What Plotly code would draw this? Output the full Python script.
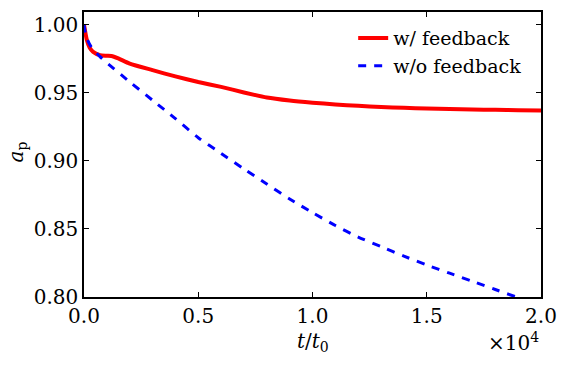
import plotly.graph_objects as go

# time in units of t0
t_fb = [0, 120, 250, 400, 700, 1000, 1200, 1500, 2000, 3000, 4000, 5000, 6000, 7000,
        8000, 9000, 10000, 11000, 12000, 13000, 14000, 15000, 16000, 17000, 18000,
        19000, 20000]
a_fb = [1.000, 0.989, 0.983, 0.980, 0.9775, 0.9772, 0.977, 0.9752, 0.9714, 0.9666,
        0.962, 0.9579, 0.9543, 0.9502, 0.9465, 0.9443, 0.9427, 0.9414, 0.9404, 0.9395,
        0.9389, 0.9384, 0.938, 0.9377, 0.9375, 0.9372, 0.937]

t_nofb = [0, 100, 300, 700, 1000, 2000, 3000, 4000, 5000, 6000, 7000, 8000, 9000,
          10000, 11000, 12000, 13000, 14000, 15000, 16000, 17000, 18000, 19000, 20000]
a_nofb = [1.0, 0.991, 0.984, 0.9765, 0.972, 0.958, 0.9445, 0.931, 0.917, 0.9055, 0.894,
          0.883, 0.872, 0.862, 0.8525, 0.844, 0.837, 0.830, 0.8235, 0.8175, 0.8115,
          0.8055, 0.7995, 0.7935]

x_ticks = [0, 5000, 10000, 15000, 20000]
x_labels = ['0.0', '0.5', '1.0', '1.5', '2.0']
y_ticks = [0.80, 0.85, 0.90, 0.95, 1.00]
y_labels = ['0.80', '0.85', '0.90', '0.95', '1.00']

FONT = 'DejaVu Serif'

fig = go.Figure()
fig.add_trace(go.Scatter(x=t_fb, y=a_fb, mode='lines', name='w/ feedback',
                         line=dict(color='#ff0000', width=4, shape='spline', smoothing=0.6)))
fig.add_trace(go.Scatter(x=t_nofb, y=a_nofb, mode='lines', name='w/o feedback',
                         line=dict(color='#0000ff', width=3, dash='8px,8px',
                                   shape='spline', smoothing=0.6)))

axis_style = dict(showline=True, linecolor='black', linewidth=1.5, mirror='allticks',
                  ticks='inside', ticklen=5, tickwidth=1, tickcolor='black',
                  showgrid=False, zeroline=False,
                  tickfont=dict(family=FONT, size=20, color='black'))

fig.update_xaxes(range=[0, 20000], tickvals=x_ticks, ticktext=x_labels, **axis_style)
fig.update_yaxes(range=[0.8, 1.0093], tickvals=y_ticks, ticktext=y_labels, **axis_style)

fig.add_annotation(text='<i>t</i>/<i>t</i><sub>0</sub>', xref='paper', yref='paper',
                   x=0.5, y=-0.105, xanchor='center', yanchor='top', showarrow=False,
                   font=dict(family=FONT, size=20, color='black'))
fig.add_annotation(text='×10<sup>4</sup>', xref='paper', yref='paper',
                   x=1.0, y=-0.105, xanchor='right', yanchor='top', showarrow=False,
                   font=dict(family=FONT, size=20, color='black'))
fig.add_annotation(text='<i>a</i><sub>p</sub>', xref='paper', yref='paper',
                   x=-0.147, y=0.51, xanchor='center', yanchor='middle', showarrow=False,
                   textangle=-90, font=dict(family=FONT, size=20, color='black'))

# the page body adds an 8px offset, so the figure is 8px smaller and shifted margins
fig.update_layout(width=558, height=358, plot_bgcolor='white', paper_bgcolor='white',
                  margin=dict(l=76, r=25, t=2, b=69),
                  legend=dict(x=0.589, y=0.975, xanchor='left', yanchor='top',
                              bgcolor='rgba(0,0,0,0)', tracegroupgap=0,
                              font=dict(family=FONT, size=19, color='black')))

fig.write_html("out.html")
